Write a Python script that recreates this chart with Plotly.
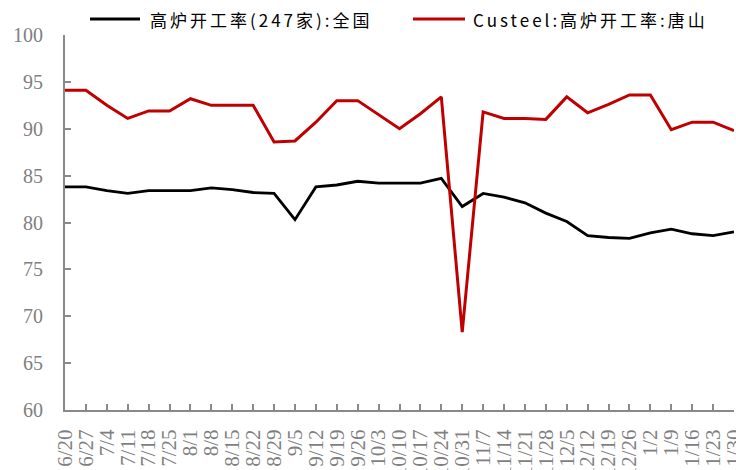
import plotly.graph_objects as go

dates = ["6/20", "6/27", "7/4", "7/11", "7/18", "7/25", "8/1", "8/8", "8/15", "8/22",
         "8/29", "9/5", "9/12", "9/19", "9/26", "10/3", "10/10", "10/17", "10/24", "10/31",
         "11/7", "11/14", "11/21", "11/28", "12/5", "12/12", "12/19", "12/26", "1/2", "1/9",
         "1/16", "1/23", "1/30"]

national = [83.8, 83.8, 83.4, 83.1, 83.4, 83.4, 83.4, 83.7, 83.5, 83.2,
            83.1, 80.3, 83.8, 84.0, 84.4, 84.2, 84.2, 84.2, 84.7, 81.7,
            83.1, 82.7, 82.1, 81.0, 80.1, 78.6, 78.4, 78.3, 78.9, 79.3,
            78.8, 78.6, 79.0]

tangshan = [94.1, 94.1, 92.5, 91.1, 91.9, 91.9, 93.2, 92.5, 92.5, 92.5,
            88.6, 88.7, 90.7, 93.0, 93.0, 91.5, 90.0, 91.6, 93.4, 68.3,
            91.8, 91.1, 91.1, 91.0, 93.4, 91.7, 92.6, 93.6, 93.6, 89.9,
            90.7, 90.7, 89.8]

name_national = "高炉开工率(247家):全国"
name_tangshan = "Custeel:高炉开工率:唐山"
y_ticks = [60, 65, 70, 75, 80, 85, 90, 95, 100]

W, H = 736, 470
ML, MR, MT, MB = 65, 2, 35, 60
PW, PH = W - ML - MR, H - MT - MB
LEG_LS = 3   # legend letter spacing (px)

def px(x):
    return (x - ML) / PW

def py(y):
    return (H - MB - y) / PH

fig = go.Figure()
fig.add_trace(go.Scatter(x=dates, y=national, mode="lines", name=name_national,
                         line=dict(color="#000000", width=2.8), showlegend=False))
fig.add_trace(go.Scatter(x=dates, y=tangshan, mode="lines", name=name_tangshan,
                         line=dict(color="#C00000", width=3), showlegend=False))

legend_items = [(90, 140, 148, "#000000", name_national),
                (413, 465, 471, "#C00000", name_tangshan)]
for x0, x1, xt, col, txt in legend_items:
    fig.add_shape(type="line", xref="paper", yref="paper",
                  x0=px(x0), x1=px(x1), y0=py(19), y1=py(19),
                  line=dict(color=col, width=3))
    fig.add_annotation(xref="paper", yref="paper", x=px(xt + len(txt) * LEG_LS / 2), y=py(19),
                       text=txt, showarrow=False, xanchor="left", yanchor="middle",
                       font=dict(family="Noto Sans CJK SC", size=17, color="#000000"))

serif = "Liberation Serif, Times New Roman, serif"
fig.update_layout(
    width=W, height=H,
    margin=dict(l=ML, r=MR, t=MT, b=MB, pad=0),
    paper_bgcolor="white", plot_bgcolor="white",
    showlegend=False,
)
fig.update_xaxes(
    type="category", range=[0, len(dates) - 1], automargin=False,
    tickmode="array", tickvals=dates, ticktext=dates,
    showline=True, linecolor="#898989", linewidth=2,
    ticks="inside", ticklen=6, tickcolor="#898989", tickwidth=1.5,
    tickangle=-90, showgrid=False, zeroline=False, ticklabelstandoff=9,
    tickfont=dict(family=serif, size=21, color="#7f7f7f"),
)
fig.update_yaxes(
    range=[60, 100], tickvals=y_ticks, automargin=False,
    showline=True, linecolor="#898989", linewidth=2,
    ticks="inside", ticklen=6, tickcolor="#898989", tickwidth=1.5,
    showgrid=False, zeroline=False, ticklabelstandoff=16,
    tickfont=dict(family=serif, size=20, color="#7f7f7f"),
)

post = ("document.body.style.margin='0';"
        "var gd=document.getElementById('{plot_id}');"
        "gd.querySelectorAll('.annotation-text').forEach(function(e){e.style.letterSpacing='%dpx';});"
        % LEG_LS)

fig.write_html("out.html", post_script=post, config={"displayModeBar": False})
